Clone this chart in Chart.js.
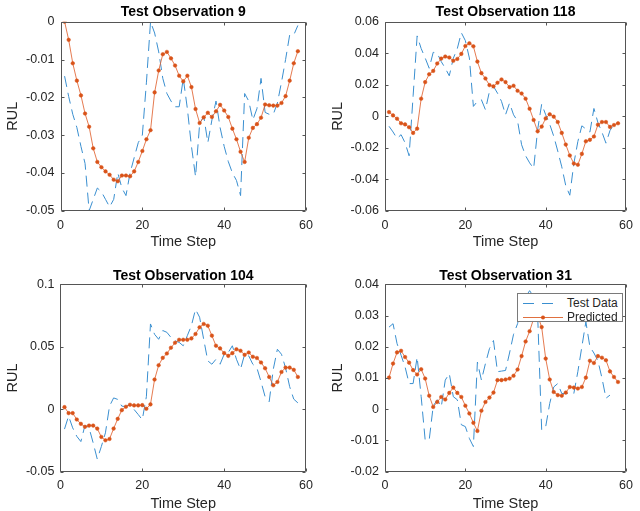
<!DOCTYPE html>
<html>
<head>
<meta charset="utf-8">
<script src="https://cdn.jsdelivr.net/npm/chart.js@4.4.1/dist/chart.umd.min.js"></script>
<style>
html, body { margin: 0; padding: 0; background: #fff; overflow: hidden; }
body { width: 640px; height: 511px; position: relative; font-family: "Liberation Sans", Arial, sans-serif; }
canvas { position: absolute; }
#legend { position: absolute; left: 517px; top: 293px; width: 104px; height: 27px; border: 1px solid #7a7a7a; background: #fff; }
#legend svg { position: absolute; left: 0; top: 0; }
#legend span { position: absolute; left: 49px; font-size: 12px; color: #262626; line-height: 14px; }
</style>
</head>
<body>
<canvas id="c1" width="320" height="255" style="left:0;top:0"></canvas>
<canvas id="c2" width="320" height="255" style="left:320px;top:0"></canvas>
<canvas id="c3" width="320" height="260" style="left:0;top:256px"></canvas>
<canvas id="c4" width="320" height="260" style="left:320px;top:256px"></canvas>
<div id="legend">
  <svg width="104" height="27">
    <line x1="5" y1="9.5" x2="40" y2="9.5" stroke="#3a8fd0" stroke-width="1" stroke-dasharray="11,8"></line>
    <line x1="5" y1="23.5" x2="45" y2="23.5" stroke="#e0703f" stroke-width="1"></line>
    <circle cx="25" cy="23.5" r="2" fill="#D95319"></circle>
  </svg>
  <span style="top:2px">Test Data</span>
  <span style="top:16px">Predicted</span>
</div>
<script>
// time steps 1..58
const steps = Array.from({length: 58}, (_, i) => i + 1);

// Test Observation 9
const test9 = [-0.0144, -0.0198, -0.0245, -0.028, -0.033, -0.0375, -0.05, -0.047, -0.044, -0.045,
  -0.047, -0.049, -0.047, -0.04, -0.044, -0.046, -0.04, -0.036, -0.032, -0.03,
  -0.016, 0, -0.003, -0.008, -0.015, -0.019, -0.021, -0.0225, -0.0225, -0.015,
  -0.023, -0.033, -0.041, -0.027, -0.025, -0.032, -0.026, -0.021, -0.028, -0.033,
  -0.037, -0.04, -0.042, -0.046, -0.019, -0.021, -0.026, -0.023, -0.015, -0.024,
  -0.0245, -0.0245, -0.0215, -0.016, -0.01, -0.0035, -0.0035, -0.001];
const pred9 = [0, -0.0048, -0.011, -0.0156, -0.0195, -0.0243, -0.0278, -0.0335, -0.0371, -0.0385,
  -0.0396, -0.0405, -0.0418, -0.0422, -0.0407, -0.0407, -0.0409, -0.0396, -0.0371, -0.0342,
  -0.0311, -0.0287, -0.0187, -0.0129, -0.0086, -0.008, -0.0097, -0.0116, -0.0143, -0.0158,
  -0.0143, -0.0173, -0.0231, -0.0268, -0.0253, -0.0241, -0.0252, -0.0237, -0.022, -0.0235,
  -0.0252, -0.0283, -0.0311, -0.0344, -0.0371, -0.0307, -0.0281, -0.0271, -0.0254, -0.0219,
  -0.0221, -0.0222, -0.0222, -0.0215, -0.0197, -0.0156, -0.011, -0.0078];

// Test Observation 118
const test118 = [-0.0063, -0.0099, -0.014, -0.0116, -0.0168, -0.025, 0.013, 0.051, 0.043, 0.037,
  0.0305, 0.0406, 0.04, 0.0347, 0.0305, 0.0257, 0.0368, 0.043, 0.053, 0.048,
  0.037, 0.0063, 0.0095, 0.0105, 0.0042, 0.0158, 0.019, 0.0147, 0.0095, 0.001,
  0.0084, 0.001, -0.003, -0.018, -0.025, -0.0295, -0.033, -0.0084, 0.0078, 0.001,
  -0.005, -0.0126, -0.022, -0.032, -0.044, -0.05, -0.03, -0.016, -0.006, -0.008,
  -0.01, 0.005, -0.004, -0.01, -0.017, -0.009, -0.005, -0.004];
const pred118 = [0.0027, 0.0006, -0.0015, -0.0044, -0.0051, -0.0069, -0.0105, -0.0078, 0.0112, 0.0217,
  0.0267, 0.0288, 0.0335, 0.0366, 0.0379, 0.0373, 0.0352, 0.0364, 0.0396, 0.0446,
  0.0463, 0.0444, 0.0347, 0.0274, 0.024, 0.0198, 0.019, 0.0213, 0.0234, 0.0217,
  0.0185, 0.0194, 0.0162, 0.0145, 0.0112, 0.0048, -0.0023, -0.0095, -0.0065, -0.0013,
  0.0013, -0.0002, -0.0036, -0.0105, -0.0179, -0.0248, -0.0299, -0.0307, -0.0238, -0.0158,
  -0.0149, -0.0128, -0.0053, -0.0036, -0.0036, -0.0067, -0.0055, -0.0044];

// Test Observation 104
const test104 = [-0.016, -0.0056, -0.015, -0.0218, -0.026, -0.013, -0.015, -0.027, -0.04, -0.03,
  -0.019, 0.0024, 0.009, 0.0078, 0.0024, 0.002, 0.0038, -0.0003, -0.0043, -0.0085,
  0.01, 0.0683, 0.06, 0.056, 0.063, 0.0616, 0.0575, 0.0548, 0.0535, 0.0508,
  0.0589, 0.067, 0.08, 0.0737, 0.056, 0.0387, 0.036, 0.04, 0.036, 0.044,
  0.0454, 0.0508, 0.04, 0.032, 0.044, 0.0427, 0.036, 0.033, 0.022, 0.01,
  0.006, 0.032, 0.048, 0.044, 0.033, 0.018, 0.008, 0.005];
const pred104 = [0.0016, -0.0032, -0.0032, -0.0083, -0.0118, -0.0142, -0.0132, -0.0132, -0.0156, -0.0223,
  -0.025, -0.0239, -0.0156, -0.0078, -0.0008, 0.0019, 0.0035, 0.003, 0.003, 0.0032,
  0.0003, 0.0038, 0.0237, 0.0352, 0.0411, 0.0446, 0.0492, 0.0532, 0.0556, 0.0556,
  0.0556, 0.0567, 0.0602, 0.0656, 0.0683, 0.0669, 0.0589, 0.0508, 0.0487, 0.0449,
  0.0427, 0.0449, 0.048, 0.0468, 0.0435, 0.0454, 0.042, 0.041, 0.0374, 0.0328,
  0.0258, 0.0191, 0.0218, 0.0298, 0.0333, 0.0333, 0.0315, 0.0258];

// Test Observation 31
const test31 = [0.0263, 0.0274, 0.021, 0.0173, 0.0135, 0.0082, 0.0082, 0.0167, 0.004, -0.0099,
  -0.0099, 0.001, 0.003, 0.0007, 0.0093, 0.0114, 0.004, 0.003, -0.005, -0.0056,
  -0.0094, -0.012, 0.0151, 0.0093, 0.0146, 0.0194, 0.022, 0.012, 0.0122, 0.0124,
  0.018, 0.024, 0.0274, 0.033, 0.036, 0.038, 0.036, 0.03, -0.0067, -0.0056,
  0.0018, 0.0071, 0.0082, 0.005, 0.005, 0.005, 0.005, 0.012, 0.02, 0.028,
  0.02, 0.018, 0.0155, 0.01, 0.0035, 0.0045, null, null];
const pred31 = [0.0101, 0.0146, 0.0182, 0.0187, 0.0167, 0.0149, 0.0125, 0.0111, 0.0128, 0.0098,
  0.0043, 0.0007, 0.0023, 0.0039, 0.0031, 0.0052, 0.0069, 0.0052, 0.0039, 0.0011,
  -0.0014, -0.0044, -0.007, -0.0005, 0.0023, 0.0037, 0.0053, 0.0093, 0.0093, 0.0095,
  0.0098, 0.0107, 0.0127, 0.017, 0.0217, 0.025, 0.029, 0.03, 0.0263, 0.0162,
  0.0095, 0.0055, 0.0045, 0.0043, 0.0053, 0.0071, 0.0069, 0.0066, 0.0071, 0.0101,
  0.0155, 0.0148, 0.017, 0.0165, 0.0157, 0.0121, 0.0103, 0.0087];

const blue = '#3a8fd0';
const orange = '#D95319';
const axisColor = '#262626';
const fontFamily = '"Liberation Sans", Arial, sans-serif';

// MATLAB-like box with inward ticks on every side
const boxPlugin = {
  id: 'box',
  afterDatasetsDraw(chart) {
    const a = chart.chartArea;
    const ctx = chart.ctx;
    const L = Math.round(a.left) + 0.5, R = Math.round(a.right) - 0.5;
    const T = Math.round(a.top) + 0.5, B = Math.round(a.bottom) - 0.5;
    ctx.save();
    ctx.strokeStyle = '#555';
    ctx.lineWidth = 1;
    ctx.beginPath();
    ctx.rect(L, T, R - L, B - T);
    chart.scales.x.ticks.forEach(t => {
      const px = Math.round(chart.scales.x.getPixelForValue(t.value)) + 0.5;
      ctx.moveTo(px, B); ctx.lineTo(px, B - 3);
      ctx.moveTo(px, T); ctx.lineTo(px, T + 3);
    });
    chart.scales.y.ticks.forEach(t => {
      const py = Math.round(chart.scales.y.getPixelForValue(t.value)) + 0.5;
      ctx.moveTo(L, py); ctx.lineTo(L + 3, py);
      ctx.moveTo(R, py); ctx.lineTo(R - 3, py);
    });
    ctx.stroke();
    ctx.restore();
  }
};

function fmt(v) {
  return String(+v.toFixed(3));
}

function makePanel(id, title, testVals, predVals, yMin, yMax, yStep, p) {
  const ctx = document.getElementById(id).getContext('2d');
  return new Chart(ctx, {
    type: 'line',
    data: {
      datasets: [{
        label: 'Test Data',
        data: steps.map((t, i) => ({x: t, y: testVals[i]})),
        borderColor: blue,
        borderWidth: 1,
        borderDash: [11, 6],
        pointRadius: 0,
        fill: false,
        order: 1
      }, {
        label: 'Predicted',
        data: steps.map((t, i) => ({x: t, y: predVals[i]})),
        borderColor: 'rgba(224,100,50,0.85)',
        borderWidth: 1,
        pointRadius: 1.8,
        pointBorderWidth: 0.5,
        pointBackgroundColor: orange,
        pointBorderColor: orange,
        fill: false,
        order: 0
      }]
    },
    options: {
      responsive: false,
      animation: false,
      layout: { padding: { left: 0, right: p.right, top: 0, bottom: 0 } },
      plugins: {
        legend: { display: false },
        tooltip: { enabled: false },
        title: {
          display: true,
          text: title,
          fullSize: false,
          color: '#000',
          font: { family: fontFamily, size: 14, weight: 'bold', lineHeight: 1.2 },
          padding: { top: p.titleTop, bottom: p.titleBottom }
        }
      },
      scales: {
        x: {
          type: 'linear',
          min: 0,
          max: 60,
          grid: { display: false, drawTicks: false },
          border: { display: false },
          ticks: { stepSize: 20, padding: 7, color: axisColor, font: { family: fontFamily, size: 12.5 } },
          title: {
            display: true, text: 'Time Step', color: axisColor,
            font: { family: fontFamily, size: 14.5, lineHeight: 1.2 },
            padding: { top: 0, bottom: p.xTitleBottom }
          },
          afterFit(scale) { scale.height = p.xHeight; }
        },
        y: {
          min: yMin,
          max: yMax,
          grid: { display: false, drawTicks: false },
          border: { display: false },
          ticks: { stepSize: yStep, padding: 6, color: axisColor, font: { family: fontFamily, size: 12.5 }, callback: fmt },
          title: {
            display: true, text: 'RUL', color: axisColor,
            font: { family: fontFamily, size: 14.5, lineHeight: 1.2 },
            padding: { top: p.yTitleLeft, bottom: 0 }
          },
          afterFit(scale) { scale.width = p.yWidth; }
        }
      }
    },
    plugins: [boxPlugin]
  });
}

makePanel('c1', 'Test Observation 9', test9, pred9, -0.05, 0, 0.01,
  { right: 13, titleTop: 4.1, titleBottom: 0.8, xHeight: 44.3, xTitleBottom: 4.3, yWidth: 60.5, yTitleLeft: 3.8 });
makePanel('c2', 'Test Observation 118', test118, pred118, -0.06, 0.06, 0.02,
  { right: 9, titleTop: 4.1, titleBottom: 0.8, xHeight: 44, xTitleBottom: 4.3, yWidth: 65, yTitleLeft: 9.3 });
makePanel('c3', 'Test Observation 104', test104, pred104, -0.05, 0.1, 0.05,
  { right: 13.3, titleTop: 11.6, titleBottom: 0, xHeight: 44.5, xTitleBottom: 3.3, yWidth: 60.4, yTitleLeft: 3.8 });
makePanel('c4', 'Test Observation 31', test31, pred31, -0.02, 0.04, 0.01,
  { right: 9, titleTop: 11.6, titleBottom: 0, xHeight: 44.5, xTitleBottom: 3.3, yWidth: 65, yTitleLeft: 9.3 });
</script>
</body>
</html>
